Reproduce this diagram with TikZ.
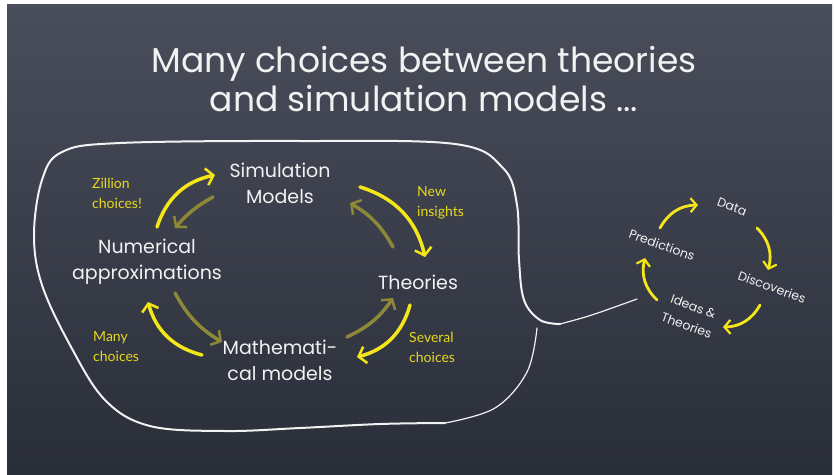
\documentclass[tikz,border=0pt]{standalone}
\usepackage{fontspec}
\setmainfont{Poppins}
\newfontfamily\notefont{Lato}
\usetikzlibrary{positioning,arrows.meta}

\definecolor{boardtop}{HTML}{4A4E5B}
\definecolor{boardbot}{HTML}{2A2E39}
\definecolor{chalkyellow}{HTML}{F4E619}
\definecolor{chalkolive}{HTML}{8C8838}
\definecolor{noteyellow}{HTML}{E8D81C}
\definecolor{chalkwhite}{HTML}{F2F2F2}

\tikzset{
	chalk/.style={draw=chalkwhite, line width=2pt, line cap=round},
	fwd/.style={draw=chalkyellow, line width=3.5pt, line cap=round,
		-{Straight Barb[length=7pt,width=17pt,line width=2.5pt]}},
	bwd/.style={fwd, draw=chalkolive},
	fwdsmall/.style={fwd, line width=2.8pt,
		-{Straight Barb[length=6pt,width=14pt,line width=2.2pt]}},
	term/.style={text=chalkwhite, font=\fontsize{19}{26}\selectfont, align=center, inner sep=0pt},
	note/.style={text=noteyellow, font=\notefont\fontsize{14}{20}\selectfont, align=left, anchor=west, inner sep=0pt},
	step term/.style={text=chalkwhite, font=\fontsize{12.5}{20}\selectfont, align=center, rotate=-20, inner sep=0pt},
}

\begin{document}
\begin{tikzpicture}[x=1pt, y=-1pt]
	\useasboundingbox (0,0) rectangle (834,474);
	\fill[white] (0,0) rectangle (834,474);
	\shade[top color=boardtop, bottom color=boardbot] (7,4) rectangle (832,474);

	% title
	\node[text=chalkwhite, font=\fontsize{34.5}{39}\selectfont, align=center] (title) at (424,79)
		{Many choices between theories\\and simulation models ...};

	% outline round the big cycle
	\draw[chalk] plot[smooth, tension=.6] coordinates {(445,423) (380,424) (300,428) (225,431) (150,426)
		(105,400) (70,345) (42,285) (34,235) (42,180) (62,152) (120,143) (300,141) (455,144) (503,168)
		(517,205) (519,260) (524,300) (540,320) (560,324)};
	\draw[chalk, line width=1.2pt] plot[smooth, tension=.6] coordinates {(537,328) (527,372) (495,408) (445,423)};
	\draw[chalk, line width=1.2pt] (560,324) .. controls (590,316) .. (637,299);

	% big cycle
	\node[term] (sim) at (280,183) {Simulation\\Models};
	\node[term] (num) at (147,262) {Numerical\\approximations};
	\node[term] (theo) at (418,282) {Theories};
	\node[term] (math) at (280,360) {Mathemati-\\cal models};

	\node[note] (zill) at (92,193) {Zillion\\choices!};
	\node[note] (newins) at (417,203) {New\\insights};
	\node[note] (many) at (93,347) {Many\\choices};
	\node[note] (sev) at (409,347) {Several\\choices};

	\draw[fwd] ([shift={(10,-35)}]num.center) to[bend left=30] ([shift={(-65,-8)}]sim.center);
	\draw[bwd] ([shift={(-67,14)}]sim.center) to[bend right=10] ([shift={(28,-34)}]num.center);
	\draw[fwd] ([shift={(80,4)}]sim.center) to[bend left=30] ([shift={(7,-25)}]theo.center);
	\draw[bwd] ([shift={(-25,-35)}]theo.center) to[bend right=15] ([shift={(70,20)}]sim.center);
	\draw[fwd] ([shift={(-8,23)}]theo.center) to[bend left=30] ([shift={(77,-3)}]math.center);
	\draw[bwd] ([shift={(67,-23)}]math.center) to[bend right=15] ([shift={(-25,16)}]theo.center);
	\draw[fwd] ([shift={(-78,-5)}]math.center) to[bend left=30] ([shift={(1,40)}]num.center);
	\draw[bwd] ([shift={(28,31)}]num.center) to[bend right=15] ([shift={(-58,-18)}]math.center);

	% small cycle
	\node[step term] (data) at (732,207) {Data};
	\node[step term] (pred) at (662,245) {Predictions};
	\node[step term] (disc) at (772,287) {Discoveries};
	\node[step term] (ideas) at (690,316) {Ideas \&\\Theories};

	\draw[fwdsmall] ([shift={(-2,-17)}]pred.center) to[bend left=30] ([shift={(-34,-2)}]data.center);
	\draw[fwdsmall] ([shift={(25,21)}]data.center) to[bend left=30] ([shift={(-4,-17)}]disc.center);
	\draw[fwdsmall] ([shift={(-12,18)}]disc.center) to[bend left=30] ([shift={(33,11)}]ideas.center);
	\draw[fwdsmall] ([shift={(-33,-16)}]ideas.center) to[bend left=30] ([shift={(-17,13)}]pred.center);
\end{tikzpicture}
\end{document}
